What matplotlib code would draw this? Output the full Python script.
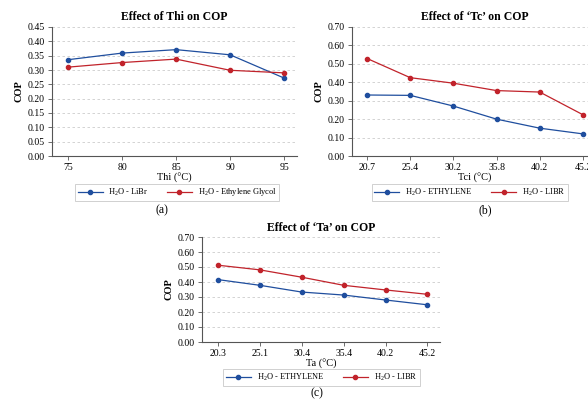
import matplotlib
matplotlib.use('Agg')
import matplotlib.pyplot as plt

# data
thi = [75, 80, 85, 90, 95]
thi_libr = [0.336, 0.359, 0.371, 0.353, 0.272]
thi_eg = [0.310, 0.326, 0.338, 0.299, 0.290]

tci = ['20.7', '25.4', '30.2', '35.8', '40.2', '45.2']
tc_ethylene = [0.331, 0.329, 0.271, 0.200, 0.151, 0.120]
tc_libr = [0.529, 0.425, 0.395, 0.355, 0.347, 0.224]

ta = ['20.3', '25.1', '30.4', '35.4', '40.2', '45.2']
ta_ethylene = [0.416, 0.378, 0.333, 0.313, 0.280, 0.248]
ta_libr = [0.512, 0.481, 0.432, 0.378, 0.347, 0.318]

blue = '#1f4e9e'
red = '#c1232b'

plt.rcParams['font.family'] = ['Liberation Serif', 'DejaVu Serif']
plt.rcParams['mathtext.default'] = 'regular'

W, H = 588, 403
fig = plt.figure(figsize=(W / 100, H / 100), dpi=100)


def px_axes(left, right, top, bottom):
    return fig.add_axes([left / W, 1 - bottom / H, (right - left) / W, (bottom - top) / H])


def style(ax, title, xlabel, pad):
    ax.set_title(title, fontsize=8.5, fontweight='bold', pad=pad)
    ax.set_xlabel(xlabel, fontsize=7.5, labelpad=0.5)
    ax.set_ylabel('COP', fontsize=7.5, fontweight='bold', labelpad=3)
    ax.grid(axis='y', linestyle=(0, (3, 3)), color='#cccccc', linewidth=0.6)
    ax.set_axisbelow(True)
    for s in ['top', 'right']:
        ax.spines[s].set_visible(False)
    for s in ['left', 'bottom']:
        ax.spines[s].set_color('#555555')
        ax.spines[s].set_linewidth(0.8)
    ax.tick_params(labelsize=7, length=3, width=0.6, color='#555555', pad=2)


def add_legend(ax, cx, cy):
    leg = ax.legend(loc='center', bbox_to_anchor=(cx / W, 1 - cy / H),
                    bbox_transform=fig.transFigure, ncol=2, fontsize=6,
                    frameon=True, fancybox=False, edgecolor='#bbbbbb',
                    handlelength=3.0, columnspacing=2.2, borderpad=0.35,
                    handletextpad=0.7)
    leg.get_frame().set_linewidth(0.6)


def draw(ax, x, y, color, label):
    ax.plot(x, y, color=color, marker='o', markersize=3, linewidth=0.9, label=label)


# (a)
ax1 = px_axes(52, 297, 27, 156)
draw(ax1, thi, thi_libr, blue, 'H$_2$O - LiBr')
draw(ax1, thi, thi_eg, red, 'H$_2$O - Ethylene Glycol')
ax1.set_xlim(73.5, 96.2)
ax1.set_ylim(0, 0.45)
ax1.set_yticks([i * 0.05 for i in range(10)])
ax1.set_yticklabels([f'{i * 0.05:.2f}' for i in range(10)])
ax1.set_xticks(thi)
style(ax1, 'Effect of Thi on COP', 'Thi (°C)', 5)
add_legend(ax1, 177, 192.5)
fig.text(162 / W, 1 - 210 / H, '(a)', ha='center', va='center', fontsize=8.5)

# (b)
ax2 = px_axes(352, 598, 27, 156)
draw(ax2, tci, tc_ethylene, blue, 'H$_2$O - ETHYLENE')
draw(ax2, tci, tc_libr, red, 'H$_2$O - LIBR')
ax2.set_xlim(-0.35, 5.35)
ax2.set_ylim(0, 0.70)
ax2.set_yticks([i * 0.1 for i in range(8)])
ax2.set_yticklabels([f'{i * 0.1:.2f}' for i in range(8)])
style(ax2, 'Effect of ‘Tc’ on COP', 'Tci (°C)', 5)
add_legend(ax2, 470, 192.5)
fig.text(485 / W, 1 - 210 / H, '(b)', ha='center', va='center', fontsize=8.5)

# (c)
ax3 = px_axes(202, 440, 237, 342)
draw(ax3, ta, ta_ethylene, blue, 'H$_2$O - ETHYLENE')
draw(ax3, ta, ta_libr, red, 'H$_2$O - LIBR')
ax3.set_xlim(-0.38, 5.3)
ax3.set_ylim(0, 0.70)
ax3.set_yticks([i * 0.1 for i in range(8)])
ax3.set_yticklabels([f'{i * 0.1:.2f}' for i in range(8)])
style(ax3, 'Effect of ‘Ta’ on COP', 'Ta (°C)', 4)
add_legend(ax3, 321.5, 377.5)
fig.text(317 / W, 1 - 393 / H, '(c)', ha='center', va='center', fontsize=8.5)

fig.savefig('out.png', dpi=100, facecolor='white')
